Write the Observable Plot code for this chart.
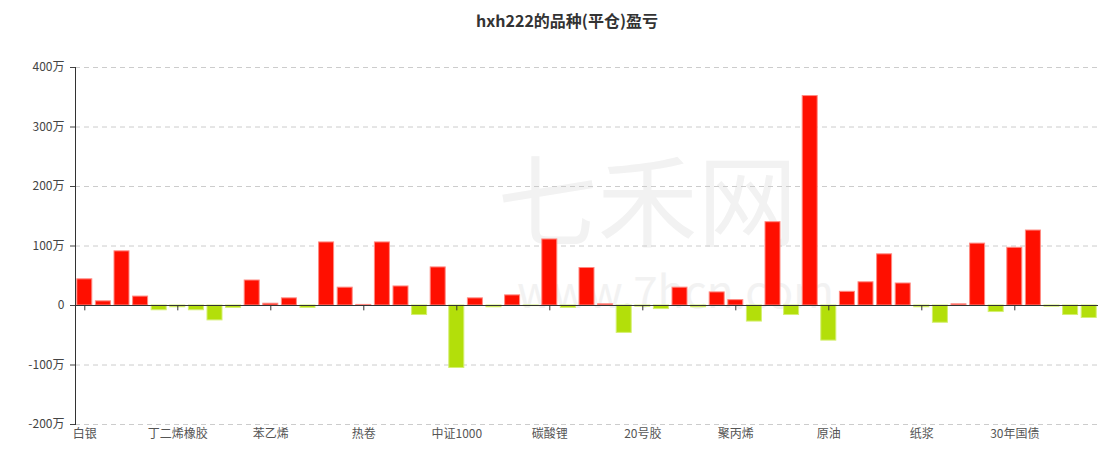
<!DOCTYPE html>
<html><head><meta charset="utf-8">
<script src="https://cdn.jsdelivr.net/npm/d3@7"></script>
<script src="https://cdn.jsdelivr.net/npm/@observablehq/plot@0.6"></script>
<style>
body{margin:0;background:#fff;font-family:"Noto Sans CJK SC","Noto Sans",sans-serif;}
#title{width:1119px;height:40px;line-height:40px;text-align:center;font-size:16px;font-weight:bold;color:#333;padding-left:15px;box-sizing:border-box;}
</style></head>
<body>
<div id="title">hxh222的品种(平仓)盈亏</div>
<div id="chart"></div>
<script>
const names = ["白银","沪铜","螺纹钢","铁矿石","焦炭","丁二烯橡胶","沪锌","沪镍","甲醇","PTA",
"苯乙烯","玻璃","纯碱","豆粕","菜粕","热卷","沪金","棕榈油","豆油","焦煤",
"中证1000","沪深300","上证50","中证500","工业硅","碳酸锂","多晶硅","沪铝","沪锡","橡胶",
"20号胶","塑料","PVC","乙二醇","尿素","聚丙烯","燃料油","沥青","低硫燃料油","液化气",
"原油","集运指数","白糖","棉花","苹果","纸浆","红枣","花生","生猪","鸡蛋",
"30年国债","10年国债","5年国债","2年国债","短纤"];
// 盈亏, 单位: 万
const values = [44,7,91,15,-8,-3,-8,-25,-4,42,
3,12,-4,106,30,1,106,32,-16,64,
-105,12,-3,17,-1,111,-4,63,2,-46,
-2,-6,30,-3,22,9,-27,140,-16,352,
-59,23,39,86,37,-3,-29,2,104,-11,
97,126,-2,-16,-21];
const shownLabels = ["白银","丁二烯橡胶","苯乙烯","热卷","中证1000","碳酸锂","20号胶","聚丙烯","原油","纸浆","30年国债"];
const yTicks = [-200,-100,0,100,200,300,400];

const data = names.map((n,i)=>({name:n, value:values[i]}));
const red = "#ff0f00", green = "#b3df0a";

const chart = Plot.plot({
  width:1119, height:426,
  marginTop:27, marginBottom:42, marginLeft:75, marginRight:21,
  style:{fontFamily:'"Noto Sans CJK SC","Noto Sans",sans-serif', fontSize:"12px", background:"#fff"},
  x:{type:"band", domain:names, padding:0, label:null},
  y:{domain:[-200,400], label:null},
  marks:[
    Plot.text(["七禾网"], {frameAnchor:"top-left", dx:572, dy:139, text:d=>d, fontSize:100, fill:"#f2f2f2", textAnchor:"middle", lineAnchor:"middle"}),
    Plot.text(["www.7hcn.com"], {frameAnchor:"top-left", dx:600, dy:226, text:d=>d, fontSize:44, fill:"#f2f2f2", textAnchor:"middle", lineAnchor:"middle"}),
    Plot.ruleY(yTicks.filter(d=>d!==0), {stroke:"#ccc", strokeDasharray:"5,4"}),
    Plot.barY(data, {x:"name", y:"value", insetLeft:1.8, insetRight:1.8,
      fill:d=>d.value>=0?red:green,
      stroke:d=>d.value>=0?"#ff8a82":"#d4ef70", strokeWidth:1}),
    Plot.ruleY([0], {stroke:"#333"}),
    Plot.ruleX(shownLabels, {x:d=>d, y1:0, y2:-9, stroke:"#333"}),
    Plot.frame({anchor:"left", stroke:"#333"}),
    Plot.axisY({ticks:yTicks, tickFormat:d=>d===0?"0":d+"万", tickSize:5, tickPadding:6, color:"#444", fontSize:12, label:null}),
    Plot.axisX({ticks:shownLabels, tickSize:0, tickPadding:5, color:"#555", fontSize:12, anchor:"bottom", label:null})
  ]
});
document.getElementById("chart").appendChild(chart);
</script>
</body></html>
